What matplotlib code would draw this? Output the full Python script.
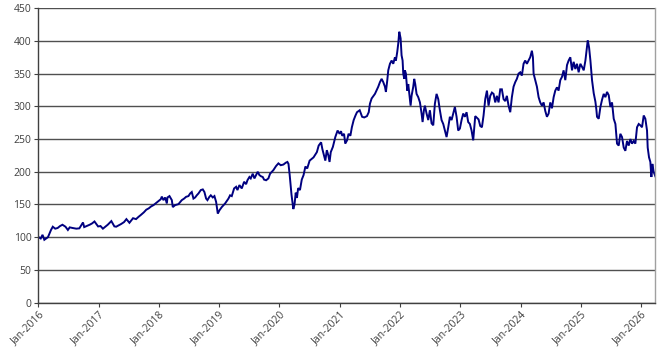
import matplotlib
matplotlib.use("Agg")
import matplotlib.pyplot as plt
import matplotlib.dates as mdates
import numpy as np
import pandas as pd

# decimal-year time stamps
t = [
    2016.006, 2016.04, 2016.07, 2016.10, 2016.16, 2016.21, 2016.24, 2016.28, 2016.32, 2016.36,
    2016.40, 2016.45, 2016.49, 2016.52, 2016.57, 2016.63, 2016.68, 2016.74, 2016.76, 2016.80,
    2016.85, 2016.89, 2016.93, 2016.99, 2017.03, 2017.07, 2017.11, 2017.15, 2017.21, 2017.26,
    2017.29, 2017.33, 2017.37, 2017.42, 2017.46, 2017.51, 2017.57, 2017.62, 2017.66, 2017.70,
    2017.75, 2017.79, 2017.83, 2017.87, 2017.91, 2017.95, 2017.99, 2018.03,
    2018.048, 2018.075, 2018.103, 2018.131, 2018.142, 2018.175, 2018.214, 2018.230, 2018.269,
    2018.324, 2018.379, 2018.418, 2018.451, 2018.490, 2018.518, 2018.545, 2018.573, 2018.601,
    2018.628, 2018.656, 2018.695, 2018.728, 2018.755, 2018.783, 2018.805, 2018.838, 2018.861,
    2018.894, 2018.921, 2018.949, 2018.977, 2019.004, 2019.043, 2019.098, 2019.154, 2019.181,
    2019.209, 2019.248, 2019.281, 2019.303, 2019.336, 2019.375, 2019.414, 2019.447, 2019.469,
    2019.502, 2019.524, 2019.557, 2019.585, 2019.613, 2019.640, 2019.668, 2019.696, 2019.723,
    2019.745, 2019.779, 2019.817, 2019.845, 2019.900, 2019.944, 2019.983, 2020.022, 2020.066,
    2020.105, 2020.132,
    2020.15, 2020.17, 2020.20, 2020.23, 2020.25, 2020.27, 2020.29, 2020.31, 2020.34, 2020.37,
    2020.40, 2020.43, 2020.46, 2020.50, 2020.565, 2020.62, 2020.65, 2020.69, 2020.71, 2020.73,
    2020.76, 2020.785, 2020.81, 2020.83, 2020.85, 2020.885, 2020.925, 2020.963, 2020.997, 2021.02,
    2021.04, 2021.07, 2021.09, 2021.12, 2021.145, 2021.175, 2021.20, 2021.23, 2021.26, 2021.285,
    2021.33, 2021.37, 2021.405, 2021.45, 2021.48,
    2021.500, 2021.528, 2021.583, 2021.638, 2021.666, 2021.694, 2021.721, 2021.749, 2021.765,
    2021.788, 2021.804, 2021.832, 2021.860, 2021.887, 2021.915, 2021.931, 2021.953, 2021.970,
    2021.987, 2022.009, 2022.025, 2022.042, 2022.053, 2022.070, 2022.081, 2022.097, 2022.119,
    2022.136, 2022.153, 2022.175, 2022.191, 2022.219, 2022.235, 2022.252, 2022.274, 2022.302,
    2022.330, 2022.357, 2022.374, 2022.396, 2022.412, 2022.440, 2022.468, 2022.495, 2022.523,
    2022.551, 2022.578, 2022.606, 2022.634, 2022.661, 2022.689, 2022.717, 2022.744, 2022.772,
    2022.800, 2022.827, 2022.855, 2022.883, 2022.910, 2022.938, 2022.965, 2022.993, 2023.021,
    2023.048, 2023.076, 2023.104, 2023.131, 2023.159, 2023.187, 2023.214,
    2023.248, 2023.303, 2023.331, 2023.359, 2023.386, 2023.414, 2023.442, 2023.469, 2023.497,
    2023.525, 2023.552, 2023.580, 2023.607, 2023.635, 2023.663, 2023.690, 2023.718, 2023.746,
    2023.773, 2023.801, 2023.829, 2023.856, 2023.884, 2023.912, 2023.939, 2023.967, 2023.995,
    2024.022, 2024.050, 2024.077, 2024.105, 2024.133, 2024.160, 2024.188, 2024.205, 2024.216,
    2024.243, 2024.271, 2024.299, 2024.326, 2024.354, 2024.382, 2024.409, 2024.437, 2024.465,
    2024.492, 2024.520, 2024.548, 2024.575, 2024.603, 2024.630, 2024.658, 2024.686, 2024.713,
    2024.741, 2024.769, 2024.796, 2024.824, 2024.852, 2024.879, 2024.907, 2024.934, 2024.962,
    2024.990, 2025.020, 2025.046, 2025.074,
    2025.113, 2025.135, 2025.157, 2025.184, 2025.212, 2025.240, 2025.256, 2025.267, 2025.295,
    2025.323, 2025.350, 2025.378, 2025.406, 2025.433, 2025.461, 2025.489, 2025.516, 2025.544,
    2025.572, 2025.599, 2025.627, 2025.654, 2025.682, 2025.710, 2025.737, 2025.765, 2025.793,
    2025.820, 2025.848, 2025.876, 2025.903, 2025.931, 2025.959, 2025.986, 2026.014, 2026.042,
    2026.069, 2026.097, 2026.108, 2026.130, 2026.152, 2026.169, 2026.185, 2026.207, 2026.235,
]

values = [
    100, 98, 103.6, 96, 100, 111, 116, 113, 114, 117,
    119, 116, 111, 115, 114, 113, 113.5, 122.5, 115.4, 117,
    119, 121, 124, 116.4, 117, 113, 116, 119, 124.6, 116.5,
    116, 118, 120, 123, 127.6, 122, 129, 127.6, 131, 134,
    138, 142, 144, 147, 149, 152, 155, 158,
    162, 156.6, 160.7, 151.5, 160.7, 162.8, 156.6, 146, 149,
    150.5, 156.6, 159, 161.7, 162.8, 166.8, 169, 159, 160.7,
    164, 166.8, 172, 173, 169, 159, 156.6, 161.7, 164,
    160.7, 162.8, 154, 136, 141, 146, 151.5, 159, 164,
    162.8, 174.5, 177, 172, 179.6, 174.5, 184.7, 181, 187,
    192, 189.8, 197, 189.8, 194.9, 200, 194.9, 193, 192,
    188, 187, 189.8, 197, 202.5, 208.7, 212.8, 210, 211,
    213.8, 215,
    212, 195, 165, 143, 150, 168, 160, 175, 172, 188,
    195, 208, 205, 217, 222, 230, 240, 245, 235, 228,
    217, 233, 225, 215, 230, 238, 253, 263, 258, 262,
    255, 258, 243, 248, 258, 255, 268, 279, 286, 291,
    294, 284, 283, 285, 291,
    304, 312, 319, 330, 337, 342, 337, 330, 322,
    340, 355, 365, 370, 365, 375, 370, 383, 396,
    414, 404, 378, 370, 350, 342, 355, 350, 324,
    334, 319, 301, 316, 330, 342, 334, 319, 314,
    306, 289, 276, 294, 301, 289, 279, 294, 274,
    271, 304, 319, 311, 294, 279, 273, 263, 253,
    268, 284, 279, 289, 299, 284, 263, 266, 279,
    289, 284, 291, 276, 273, 263, 248,
    285, 280, 270, 268, 286, 311, 324, 301, 316,
    321, 319, 306, 316, 306, 326, 326, 311, 308,
    316, 301, 291, 314, 330, 337, 342, 350, 352,
    347, 365, 370, 365, 370, 375, 385, 375, 350,
    340, 330, 314, 306, 301, 306, 293, 284, 289,
    306, 297, 314, 324, 329, 324, 340, 345, 355,
    340, 363, 370, 375, 355, 368, 357, 365, 352,
    365, 360, 355, 370,
    401, 390, 370, 340, 320, 307, 295, 284, 281,
    299, 310, 319, 314, 322, 317, 299, 306, 281,
    273, 243, 240, 258, 253, 237, 232, 247, 240,
    250, 243, 247, 243, 268, 273, 271, 268, 286,
    281, 263, 237, 222, 215, 192, 212, 200, 193,
]

y_ticks = [0, 50, 100, 150, 200, 250, 300, 350, 400, 450]
x_tick_years = list(range(2016, 2027))


def dec_to_date(d):
    y = int(np.floor(d))
    start = pd.Timestamp(year=y, month=1, day=1)
    end = pd.Timestamp(year=y + 1, month=1, day=1)
    return start + (end - start) * (d - y)


dates = [dec_to_date(d) for d in t]

plt.rcParams['font.family'] = ['Open Sans', 'DejaVu Sans']

fig = plt.figure(figsize=(6.66, 3.56), dpi=100)
ax = fig.add_axes([0.0575, 0.150, 0.9265, 0.827])

ax.plot(dates, values, color='#000080', linewidth=1.4, solid_joinstyle='miter')

ax.set_ylim(0, 450)
ax.set_yticks(y_ticks)
ax.set_xlim(pd.Timestamp('2016-01-01'), dates[-1])
xt = [pd.Timestamp(year=y, month=1, day=1) for y in x_tick_years]
ax.set_xticks(xt)
ax.set_xticklabels([f"Jan-{y}" for y in x_tick_years], rotation=45, ha='right',
                   rotation_mode='anchor')

ax.grid(axis='y', color='#505050', linewidth=1.0)
ax.set_axisbelow(True)

for s in ['left', 'bottom']:
    ax.spines[s].set_color('#404040')
    ax.spines[s].set_linewidth(1.0)
ax.spines['top'].set_visible(False)
ax.spines['right'].set_color('#a0a0a0')
ax.spines['right'].set_linewidth(1.0)

ax.tick_params(axis='both', labelsize=7.5, colors='#404040', length=3, width=0.8,
               labelcolor='#404040')
ax.tick_params(axis='y', pad=2)
ax.tick_params(axis='x', pad=2)

fig.savefig('out.png', dpi=100)
